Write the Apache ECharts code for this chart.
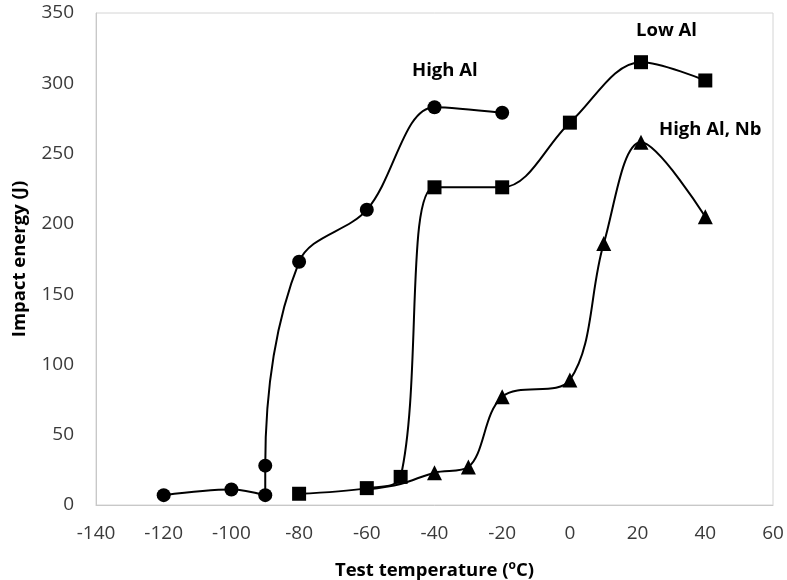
<!DOCTYPE html>
<html>
<head>
<meta charset="utf-8">
<script src="https://cdn.jsdelivr.net/npm/echarts@6/dist/echarts.min.js"></script>
<style>html,body{margin:0;padding:0;background:#fff;}#c{width:787px;height:580px;}</style>
</head>
<body>
<div id="c"></div>
<script>
var highAlX = [-120, -100, -90, -90, -80, -60, -40, -20];
var highAlY = [7, 11, 7, 28, 173, 210, 283, 279];
var lowAlX = [-80, -60, -50, -40, -20, 0, 21, 40];
var lowAlY = [8, 12, 20, 226, 226, 272, 315, 302];
var nbX = [-60, -50, -40, -30, -20, 0, 10, 21, 40];
var nbY = [11, 15, 23, 27, 77, 89, 186, 258, 205];
var xTicks = {min: -140, max: 60, interval: 20};
var yTicks = {min: 0, max: 350, interval: 50};
var seriesNames = ['High Al', 'Low Al', 'High Al, Nb'];

function pairs(xs, ys) { return xs.map(function (x, i) { return [x, ys[i]]; }); }
var nbData = pairs(nbX, nbY).map(function (p, i) {
  return i < 2 ? {value: p, symbol: 'none'} : p;
});

var chart = echarts.init(document.getElementById('c'));
var font = '"Open Sans", sans-serif';
chart.setOption({
  animation: false,
  grid: {left: 96, right: 14, top: 13, bottom: 75, show: true, borderColor: '#d4d4d4', borderWidth: 1,
         containLabel: false, outerBoundsMode: 'none'},
  xAxis: {
    type: 'value', min: xTicks.min, max: xTicks.max, interval: xTicks.interval,
    axisLine: {show: true, onZero: false, lineStyle: {color: '#c8c8c8'}},
    axisTick: {show: false},
    splitLine: {show: false},
    axisLabel: {color: '#3a3a3a', fontSize: 19, fontFamily: font, margin: 19},
    name: '{b|Test temperature (}{s|o}{b|C)}',
    nameLocation: 'middle', nameGap: 55,
    nameTextStyle: {
      rich: {
        b: {fontSize: 18.5, fontWeight: 'bold', fontFamily: font, color: '#000'},
        s: {fontSize: 12, fontWeight: 'bold', fontFamily: font, color: '#000', verticalAlign: 'top', padding: [0, 0, 9, 0]}
      }
    }
  },
  yAxis: {
    type: 'value', min: yTicks.min, max: yTicks.max, interval: yTicks.interval,
    axisLine: {show: true, onZero: false, lineStyle: {color: '#c8c8c8'}},
    axisTick: {show: false},
    splitLine: {show: false},
    axisLabel: {color: '#3a3a3a', fontSize: 19, fontFamily: font, margin: 22},
    name: 'Impact energy (J)', nameLocation: 'middle', nameGap: 67,
    nameTextStyle: {fontSize: 18.5, fontWeight: 'bold', fontFamily: font, color: '#000'}
  },
  series: [
    {name: seriesNames[2], type: 'line', data: nbData, smooth: 0.35, symbol: 'triangle', symbolSize: 15,
     lineStyle: {color: '#000', width: 2}, itemStyle: {color: '#000'}, z: 2},
    {name: seriesNames[0], type: 'line', data: pairs(highAlX, highAlY), smooth: 0.35, symbol: 'circle', symbolSize: 14,
     lineStyle: {color: '#000', width: 2}, itemStyle: {color: '#000'}, z: 3},
    {name: seriesNames[1], type: 'line', data: pairs(lowAlX, lowAlY), smooth: 0.35, symbol: 'rect', symbolSize: 14,
     lineStyle: {color: '#000', width: 2}, itemStyle: {color: '#000'}, z: 4}
  ],
  graphic: [
    {type: 'text', left: 412, top: 61, style: {text: seriesNames[0], fontSize: 18.5, fontWeight: 'bold', fontFamily: font, fill: '#000'}},
    {type: 'text', left: 636, top: 21, style: {text: seriesNames[1], fontSize: 18.5, fontWeight: 'bold', fontFamily: font, fill: '#000'}},
    {type: 'text', left: 659, top: 120, style: {text: seriesNames[2], fontSize: 18.5, fontWeight: 'bold', fontFamily: font, fill: '#000'}}
  ]
});
</script>
</body>
</html>
